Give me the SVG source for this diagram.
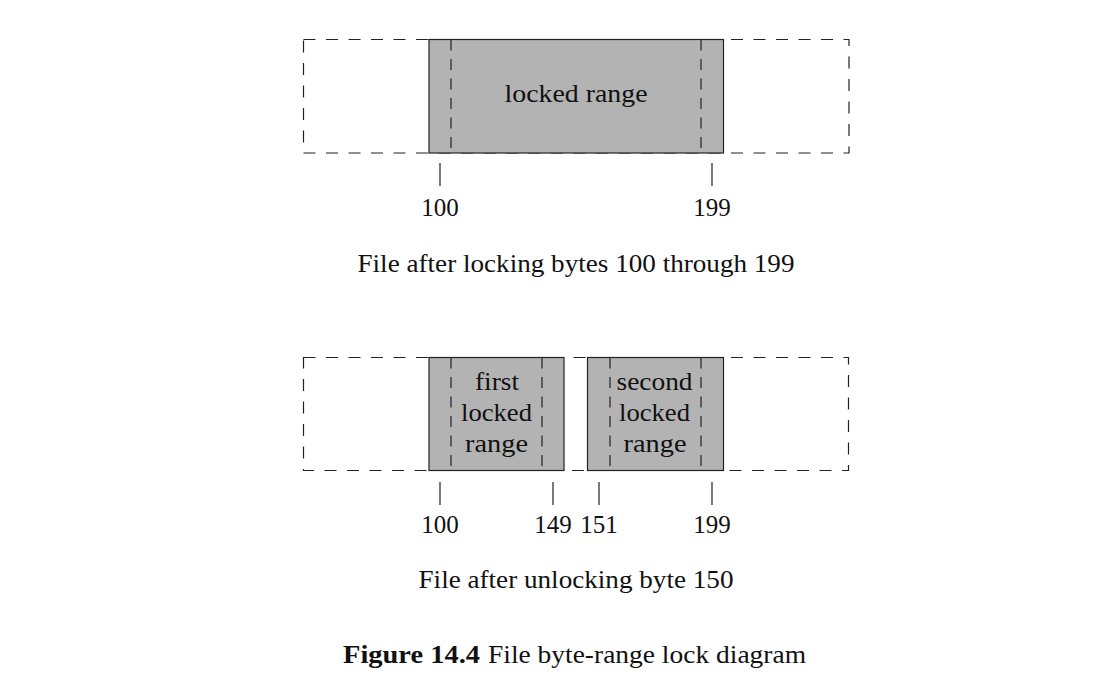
<svg xmlns="http://www.w3.org/2000/svg" width="1102" height="684" viewBox="0 0 1102 684">
<style>
.out{fill:none;stroke:#222;stroke-width:1.2;stroke-dasharray:12 10.5}
.lock{fill:#b3b3b3;stroke:#222;stroke-width:1.2}
.dl{stroke:#222;stroke-width:1.2;stroke-dasharray:11 8.5}
.tick{stroke:#222;stroke-width:1.2}
text{font-family:"Liberation Serif","DejaVu Serif",serif;font-size:25px;fill:#111}
.c{text-anchor:middle}
.b{font-weight:bold}
.in{font-size:26px}
</style>
<rect width="1102" height="684" fill="#fff"/>
<g id="file1">
<rect class="out" x="303.5" y="39.5" width="545.5" height="113.5"/>
<rect class="lock" x="429" y="39.5" width="294.5" height="113.5"/>
<line class="dl" x1="451" y1="39.5" x2="451" y2="153"/>
<line class="dl" x1="701" y1="39.5" x2="701" y2="153"/>
<text class="c" x="576" y="102" textLength="143" lengthAdjust="spacingAndGlyphs">locked range</text>
</g>
<g id="ticks1">
<line class="tick" x1="440" y1="163" x2="440" y2="186"/>
<line class="tick" x1="712" y1="163" x2="712" y2="186"/>
<text class="c" x="440" y="216">100</text>
<text class="c" x="712" y="216">199</text>
</g>
<text id="caption1" class="c" x="576" y="272" textLength="437" lengthAdjust="spacingAndGlyphs">File after locking bytes 100 through 199</text>
<g id="file2">
<rect class="out" x="303.5" y="357.5" width="545" height="113"/>
</g>
<g id="range1">
<rect class="lock" x="429" y="357.5" width="135" height="113"/>
<line class="dl" x1="451" y1="357.5" x2="451" y2="470.5"/>
<line class="dl" x1="542" y1="357.5" x2="542" y2="470.5"/>
<text class="c in" x="497" y="390" textLength="44" lengthAdjust="spacingAndGlyphs">first</text>
<text class="c in" x="496.5" y="421" textLength="71" lengthAdjust="spacingAndGlyphs">locked</text>
<text class="c in" x="496.5" y="452" textLength="63" lengthAdjust="spacingAndGlyphs">range</text>
</g>
<g id="range2">
<rect class="lock" x="587.5" y="357.5" width="136" height="113"/>
<line class="dl" x1="610" y1="357.5" x2="610" y2="470.5"/>
<line class="dl" x1="701" y1="357.5" x2="701" y2="470.5"/>
<text class="c in" x="654.5" y="390" textLength="76" lengthAdjust="spacingAndGlyphs">second</text>
<text class="c in" x="654.5" y="421" textLength="71" lengthAdjust="spacingAndGlyphs">locked</text>
<text class="c in" x="655" y="452" textLength="63" lengthAdjust="spacingAndGlyphs">range</text>
</g>
<g id="ticks2">
<line class="tick" x1="440" y1="482" x2="440" y2="505"/>
<line class="tick" x1="553" y1="482" x2="553" y2="505"/>
<line class="tick" x1="599" y1="482" x2="599" y2="505"/>
<line class="tick" x1="712" y1="482" x2="712" y2="505"/>
<text class="c" x="440" y="533">100</text>
<text class="c" x="553" y="533">149</text>
<text class="c" x="599" y="533">151</text>
<text class="c" x="712" y="533">199</text>
</g>
<text id="caption2" class="c" x="576" y="588" textLength="315" lengthAdjust="spacingAndGlyphs">File after unlocking byte 150</text>
<g id="figcaption">
<text class="b" x="343" y="663" textLength="137" lengthAdjust="spacingAndGlyphs">Figure 14.4</text>
<text x="488" y="663" textLength="318" lengthAdjust="spacingAndGlyphs">File byte-range lock diagram</text>
</g>
</svg>
